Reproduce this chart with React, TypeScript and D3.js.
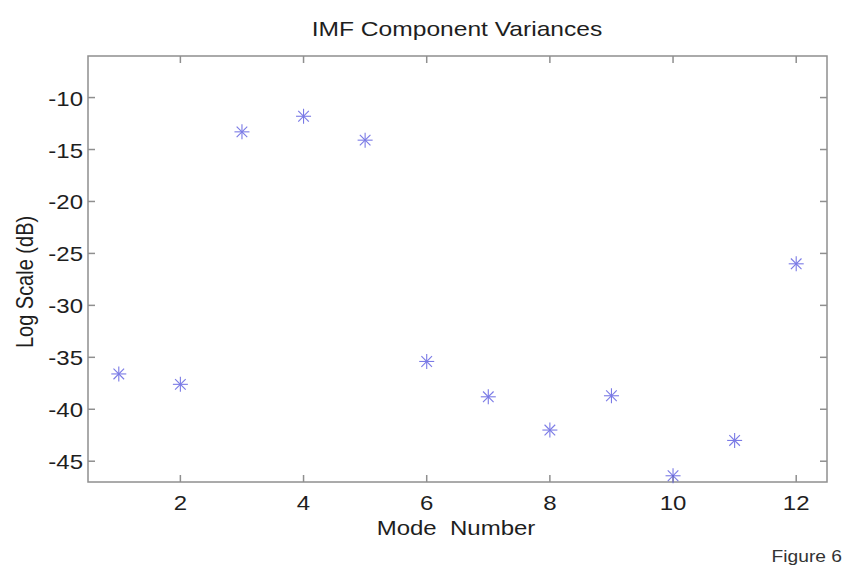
import React from "react";
import * as d3 from "d3";

const modes = [1, 2, 3, 4, 5, 6, 7, 8, 9, 10, 11, 12];
const variancesDb = [-36.6, -37.6, -13.3, -11.8, -14.1, -35.4, -38.8, -42.0, -38.7, -46.4, -43.0, -26.0];
const xTicks = [2, 4, 6, 8, 10, 12];
const yTicks = [-10, -15, -20, -25, -30, -35, -40, -45];

const W = 847, H = 575;
const M = { left: 88, top: 56, right: 827, bottom: 482 };
const SX = 1.2;

export default function App() {
  const x = d3.scaleLinear().domain([0.5, 12.5]).range([M.left, M.right]);
  const y = d3.scaleLinear().domain([-47, -6]).range([M.bottom, M.top]);
  const font = "'Liberation Sans', Arial, sans-serif";
  const axisColor = "#8f8f8f";
  const starColor = "#5a5ae0";
  const textColor = "#1e1e1e";
  const r = 7.5;
  return (
    <svg width={W} height={H} style={{ position: "absolute", left: 0, top: 0, background: "#fff" }}>
      <rect x={0} y={0} width={W} height={H} fill="#fff" />
      <text transform={`translate(457,36) scale(${SX},1)`} textAnchor="middle" fontFamily={font} fontSize={20.5} fill={textColor}>IMF Component Variances</text>
      <rect x={M.left} y={M.top} width={M.right - M.left} height={M.bottom - M.top} fill="none" stroke={axisColor} strokeWidth={1.5} />
      {xTicks.map(t => (
        <g key={"x" + t}>
          <line x1={x(t)} x2={x(t)} y1={M.bottom} y2={M.bottom - 7} stroke={axisColor} strokeWidth={1.5} />
          <line x1={x(t)} x2={x(t)} y1={M.top} y2={M.top + 7} stroke={axisColor} strokeWidth={1.5} />
          <text transform={`translate(${x(t)},${M.bottom + 28}) scale(${SX},1)`} textAnchor="middle" fontFamily={font} fontSize={20} fill={textColor}>{t}</text>
        </g>
      ))}
      {yTicks.map(t => (
        <g key={"y" + t}>
          <line x1={M.left} x2={M.left + 7} y1={y(t)} y2={y(t)} stroke={axisColor} strokeWidth={1.5} />
          <line x1={M.right} x2={M.right - 7} y1={y(t)} y2={y(t)} stroke={axisColor} strokeWidth={1.5} />
          <text transform={`translate(${M.left - 5},${y(t) + 8}) scale(${SX},1)`} textAnchor="end" fontFamily={font} fontSize={20} fill={textColor}>{t}</text>
        </g>
      ))}
      {modes.map((m, i) => {
        const cx = x(m), cy = y(variancesDb[i]);
        const d = r * Math.SQRT1_2;
        return (
          <g key={"p" + m} stroke={starColor} strokeWidth={1.1} opacity={0.8}>
            <line x1={cx - r} x2={cx + r} y1={cy} y2={cy} />
            <line x1={cx} x2={cx} y1={cy - r} y2={cy + r} />
            <line x1={cx - d} x2={cx + d} y1={cy - d} y2={cy + d} />
            <line x1={cx - d} x2={cx + d} y1={cy + d} y2={cy - d} />
          </g>
        );
      })}
      <text transform={`translate(456,535) scale(${SX},1)`} textAnchor="middle" fontFamily={font} fontSize={20} fill={textColor} style={{ whiteSpace: "pre" }}>Mode  Number</text>
      <text transform={`translate(33,${(M.top + M.bottom) / 2 + 13}) scale(${SX},1) rotate(-90)`} textAnchor="middle" fontFamily={font} fontSize={20} fill={textColor}>Log Scale (dB)</text>
      <text transform={`translate(842,562) scale(${SX},1)`} textAnchor="end" fontFamily={font} fontSize={16} fill="#333">Figure 6</text>
    </svg>
  );
}
